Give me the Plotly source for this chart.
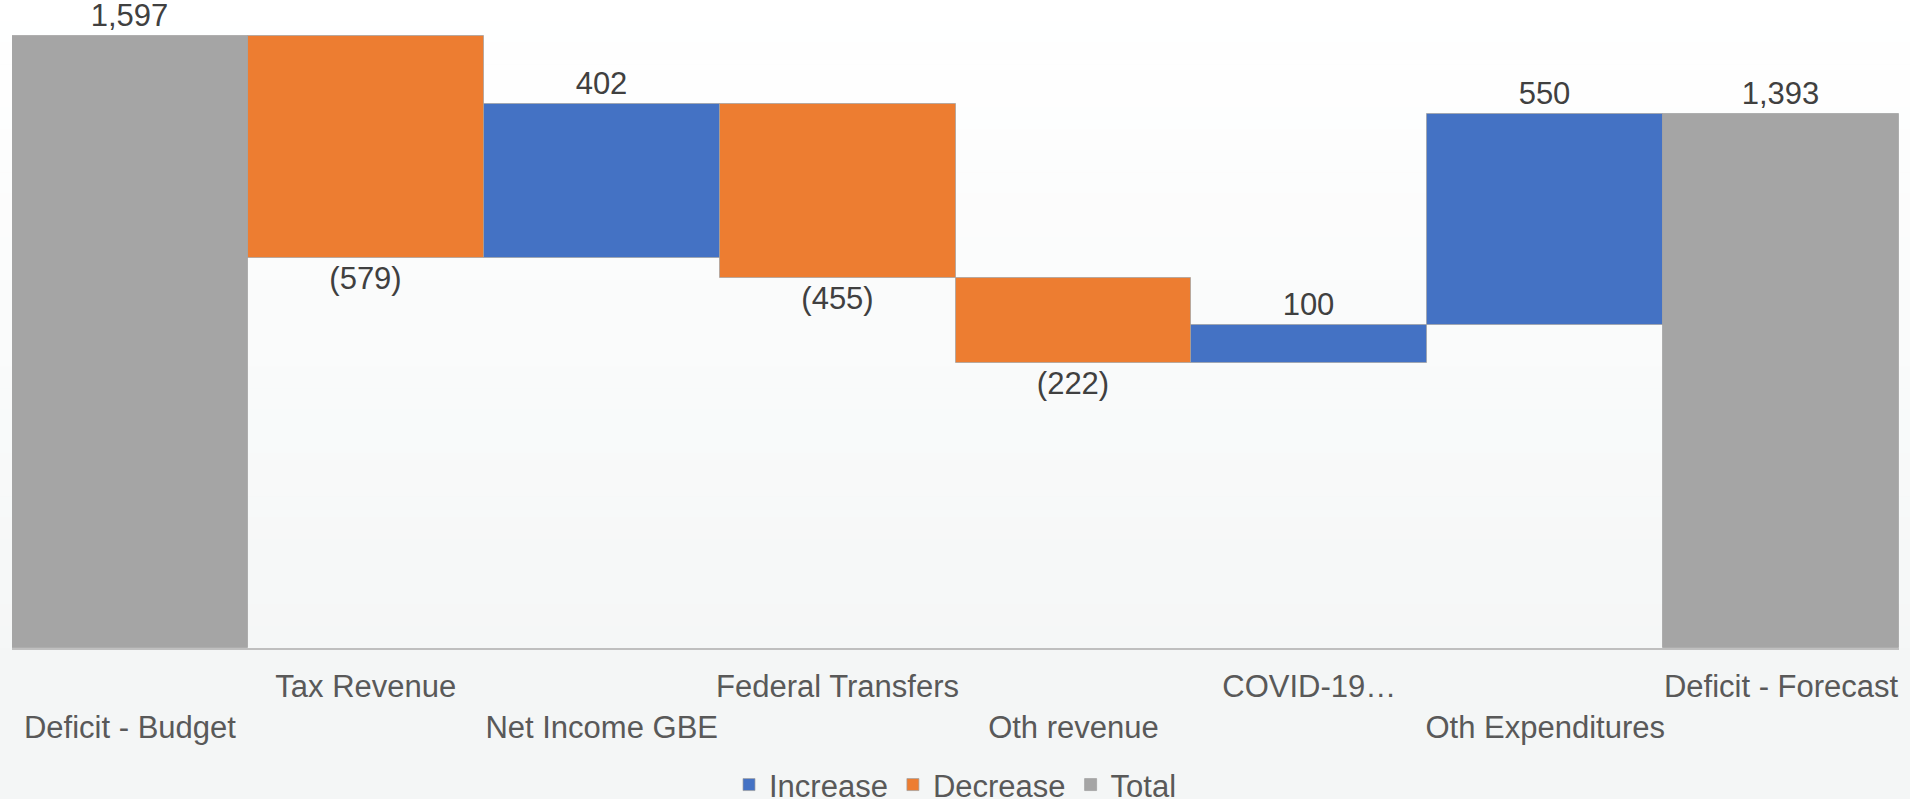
import plotly.graph_objects as go

categories = ["Deficit - Budget", "Tax Revenue", "Net Income GBE", "Federal Transfers",
              "Oth revenue", "COVID-19…", "Oth Expenditures", "Deficit - Forecast"]
measures = ["total", "decrease", "increase", "decrease", "decrease", "increase", "increase", "total"]
values = [1597, -579, 402, -455, -222, 100, 550, 1393]

colors = {"increase": "#4472C4", "decrease": "#ED7D31", "total": "#A5A5A5"}
names = {"increase": "Increase", "decrease": "Decrease", "total": "Total"}

# bases from running total
bases, running = [], 0
for m, v in zip(measures, values):
    if m == "total":
        bases.append(0)
        running = v
    else:
        bases.append(running)
        running += v

def label(m, v):
    if v < 0:
        return "({:,})".format(-v)
    return "{:,}".format(v)

fig = go.Figure()
for kind in ["increase", "decrease", "total"]:
    ys, bs, ts = [], [], []
    for m, v, b in zip(measures, values, bases):
        if m == kind:
            ys.append(v); bs.append(b); ts.append(label(m, v))
        else:
            ys.append(None); bs.append(None); ts.append("")
    fig.add_trace(go.Bar(
        x=categories, y=ys, base=bs, name=names[kind],
        marker=dict(color=colors[kind], line=dict(color="rgba(160,160,160,0.7)", width=1)),
        text=ts, textposition="outside", cliponaxis=False,
        textfont=dict(size=31, color="#404040"),
        constraintext="none",
    ))

# staggered tick labels (two rows)
ticktext = [("<br>" + c) if i % 2 == 0 else c for i, c in enumerate(categories)]

# soft vertical background gradient (white at top -> light grey near axis)
H_PLOT = 628.0
shapes = []
n = 30
top_px, axis_px = 0.0, 648.0
c0, c1 = (255, 255, 255), (245, 247, 247)
for i in range(n):
    y0p = top_px + (axis_px - top_px) * i / n
    y1p = top_px + (axis_px - top_px) * (i + 1) / n
    t = (i + 0.5) / n
    col = "rgb({},{},{})".format(*[round(a + (b - a) * t) for a, b in zip(c0, c1)])
    shapes.append(dict(type="rect", xref="paper", yref="paper", layer="below",
                       x0=-0.02, x1=1.02, y0=(648 - y1p) / H_PLOT, y1=(648 - y0p) / H_PLOT + 0.001,
                       fillcolor=col, line=dict(width=0)))

fig.update_layout(
    width=1910, height=799,
    barmode="overlay", bargap=0,
    paper_bgcolor="#f4f6f6", plot_bgcolor="rgba(0,0,0,0)",
    font=dict(family="Liberation Sans, Arial, sans-serif", size=31, color="#595959"),
    margin=dict(l=12, r=11, t=20, b=151, autoexpand=False),
    showlegend=True,
    shapes=shapes,
    legend=dict(orientation="h", x=0.5, xanchor="center", y=-0.218, yanchor="middle",
                font=dict(size=31, color="#595959"), bgcolor="rgba(0,0,0,0)",
                itemwidth=30, tracegroupgap=0),
    xaxis=dict(tickmode="array", tickvals=categories, ticktext=ticktext, tickangle=0,
               automargin=False,
               range=[-0.5, 7.5], showline=True, linecolor="#bfbfbf", linewidth=2,
               ticks="", tickfont=dict(size=31, color="#595959"), ticklabelstandoff=10),
    yaxis=dict(range=[0, 1639], visible=False, showgrid=False, automargin=False),
)

fig.write_html("out.html", config={"displayModeBar": False},
               post_script="document.body.style.margin='0';document.body.style.overflow='hidden';")
